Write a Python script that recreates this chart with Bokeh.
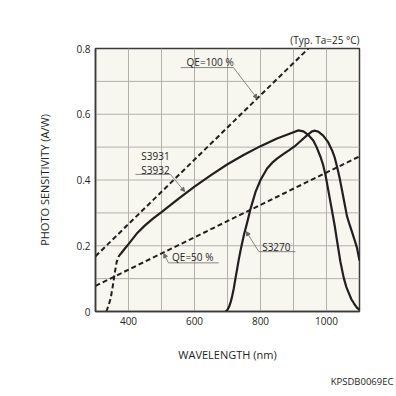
from bokeh.plotting import figure
from bokeh.models import Label, Title, FixedTicker, Arrow, NormalHead
from bokeh.embed import file_html
from bokeh.resources import INLINE

# ---- data ----
s3931_dash_wl = [333, 340, 346, 352, 358, 364, 370, 376]
s3931_dash_s = [0.0, 0.02, 0.04, 0.075, 0.115, 0.15, 0.167, 0.175]

s3931_wl = [376, 388, 400, 425, 450, 475, 500, 550, 600, 650, 700, 750, 800, 850, 900, 915,
            930, 945, 960, 970, 982, 990, 997, 1007, 1017, 1025, 1032, 1042, 1052, 1060,
            1068, 1075, 1083, 1092, 1100]
s3931_s = [0.175, 0.19, 0.205, 0.237, 0.262, 0.283, 0.302, 0.342, 0.38, 0.415, 0.448, 0.477,
           0.503, 0.526, 0.545, 0.551, 0.548, 0.537, 0.52, 0.5, 0.47, 0.445, 0.415, 0.36,
           0.305, 0.26, 0.215, 0.152, 0.103, 0.075, 0.055, 0.038, 0.025, 0.012, 0.005]

s3270_wl = [694, 700, 705, 710, 714, 719, 724, 729, 734, 739, 744, 751, 759, 770, 785, 800,
            820, 835, 850, 868, 886, 903, 920, 940, 956, 965, 975, 990, 1005, 1017, 1025,
            1032, 1040, 1047, 1055, 1062, 1070, 1077, 1085, 1092, 1100]
s3270_s = [0.0, 0.005, 0.015, 0.03, 0.046, 0.07, 0.1, 0.128, 0.157, 0.183, 0.207, 0.238,
           0.268, 0.313, 0.364, 0.4, 0.435, 0.452, 0.465, 0.478, 0.49, 0.502, 0.517, 0.535,
           0.548, 0.55, 0.547, 0.535, 0.515, 0.49, 0.468, 0.44, 0.405, 0.369, 0.327, 0.29,
           0.264, 0.243, 0.218, 0.195, 0.155]

qe100_wl = [300, 945]
qe100_s = [0.168, 0.8]
qe50_wl = [300, 1100]
qe50_s = [0.078, 0.472]

x_ticks = [400, 600, 800, 1000]
x_grid = [400, 500, 600, 700, 800, 900, 1000]
y_ticks = [0, 0.2, 0.4, 0.6, 0.8]
y_grid = [0.1, 0.2, 0.3, 0.4, 0.5, 0.6, 0.7]

FONT = "Open Sans"
INK = "#231f20"
GRID = "#b3b1ab"
X0, X1, Y0, Y1 = 300, 1100, 0, 0.8

p = figure(width=396, height=396, x_range=(X0, X1), y_range=(Y0, Y1),
           output_backend="svg", toolbar_location=None,
           min_border_left=95, min_border_right=37, min_border_top=48, min_border_bottom=84)
p.background_fill_color = "#f7f6ef"
p.border_fill_color = "white"
p.outline_line_color = "#3a3a3a"
p.outline_line_width = 1.5
p.xgrid.visible = False
p.ygrid.visible = False

p.xaxis.ticker = FixedTicker(ticks=x_ticks)
p.yaxis.ticker = FixedTicker(ticks=y_ticks)
p.yaxis.formatter.use_scientific = False
for ax in (p.xaxis, p.yaxis):
    ax.major_tick_line_color = None
    ax.minor_tick_line_color = None
    ax.major_tick_out = 0
    ax.major_tick_in = 0
    ax.minor_tick_out = 0
    ax.minor_tick_in = 0
    ax.axis_line_color = "#3a3a3a"
    ax.axis_line_width = 1.5
    ax.major_label_text_font = FONT
    ax.major_label_text_font_size = "10px"
    ax.major_label_text_color = INK
    ax.major_label_standoff = 5
    ax.axis_label_text_font = FONT
    ax.axis_label_text_font_size = "11px"
    ax.axis_label_text_font_style = "normal"
    ax.axis_label_text_color = INK
p.xaxis.axis_label = "WAVELENGTH (nm)"
p.xaxis.axis_label_standoff = 19
p.yaxis.axis_label = "PHOTO SENSITIVITY (A/W)"
p.yaxis.axis_label_standoff = 21

# grid lines drawn from the grid arrays
p.segment(x0=x_grid, y0=[Y0] * len(x_grid), x1=x_grid, y1=[Y1] * len(x_grid),
          line_color=GRID, line_width=1)
p.segment(x0=[X0] * len(y_grid), y0=y_grid, x1=[X1] * len(y_grid), y1=y_grid,
          line_color=GRID, line_width=1)

# curves
p.line(qe100_wl, qe100_s, line_color=INK, line_width=2, line_dash="5 3")
p.line(qe50_wl, qe50_s, line_color=INK, line_width=2, line_dash="5 3")
p.line(s3931_dash_wl, s3931_dash_s, line_color=INK, line_width=2, line_dash="5 3")
p.line(s3931_wl, s3931_s, line_color=INK, line_width=2.2, line_join="round")
p.line(s3270_wl, s3270_s, line_color=INK, line_width=2.2, line_join="round")

# annotations
LEAD = "#6a6a6a"
def tag(text_lines, x, y, dy, ux0, ux1, uy, tip):
    for i, t in enumerate(text_lines):
        p.add_layout(Label(x=x, y=y - i * dy, text=t, text_font=FONT, text_font_size="10px",
                           text_color=INK, text_baseline="middle"))
    p.segment(x0=[ux0], y0=[uy], x1=[ux1], y1=[uy], line_color=LEAD, line_width=0.8)
    p.add_layout(Arrow(x_start=tip[0], y_start=tip[1], x_end=tip[2], y_end=tip[3],
                       line_color=LEAD, line_width=0.8,
                       end=NormalHead(size=4, fill_color=LEAD, line_color=LEAD)))

tag(["QE=100 %"], 576, 0.758, 0, 558, 718, 0.742, (718, 0.742, 790, 0.648))
tag(["S3931", "S3932"], 439, 0.473, 0.043, 421, 527, 0.417, (527, 0.417, 570, 0.365))
tag(["QE=50 %"], 532, 0.167, 0, 521, 673, 0.148, (521, 0.148, 507, 0.176))
tag(["S3270"], 805, 0.195, 0, 795, 906, 0.182, (795, 0.182, 757, 0.243))

p.add_layout(Title(text="(Typ. Ta=25 °C)", align="right", text_font=FONT,
                   text_font_size="10px", text_font_style="normal", text_color=INK,
                   standoff=3), "above")
p.add_layout(Title(text="KPSDB0069EC", align="right", text_font=FONT,
                   text_font_size="9.5px", text_font_style="normal", text_color=INK,
                   offset=-34, standoff=17), "below")

open("out.html", "w").write(file_html(p, INLINE))
